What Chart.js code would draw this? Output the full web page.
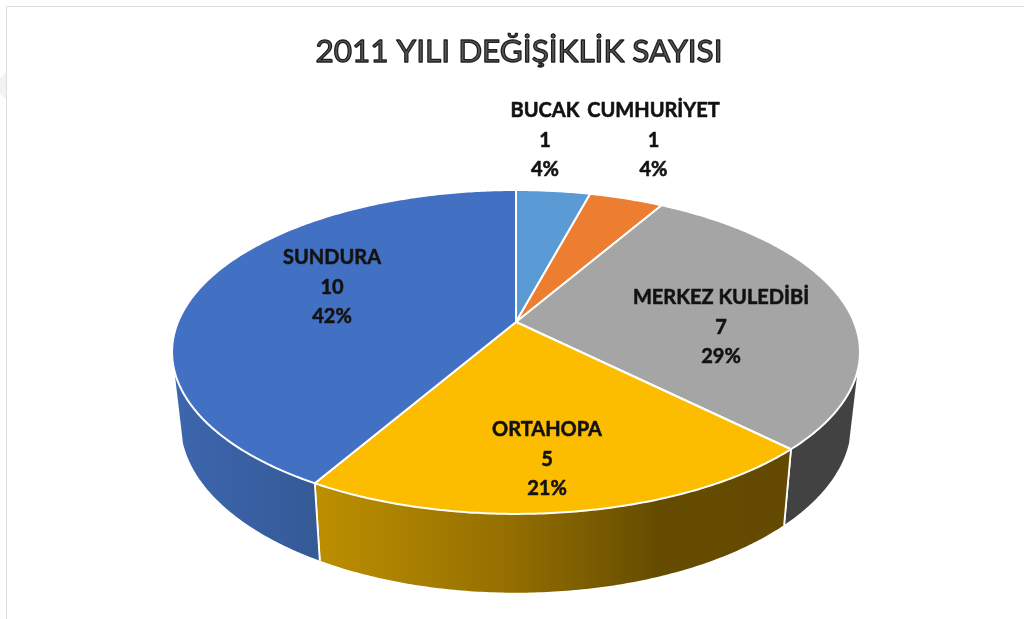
<!DOCTYPE html>
<html>
<head>
<meta charset="utf-8">
<title>2011 YILI DEĞİŞİKLİK SAYISI</title>
<style>
  html, body { margin: 0; padding: 0; background: #fff; }
  #chart { display: block; }
</style>
<script src="https://cdn.jsdelivr.net/npm/chart.js@4"></script>
</head>
<body>
<canvas id="chart" width="1024" height="619"></canvas>
<script>
// Chart values
const CHART_TITLE = '2011 YILI DEĞİŞİKLİK SAYISI';
const categories = ['BUCAK', 'CUMHURİYET', 'MERKEZ KULEDİBİ', 'ORTAHOPA', 'SUNDURA'];
const counts = [1, 1, 7, 5, 10];
const sliceColors = ['#5b9bd5', '#ed7d31', '#a5a5a5', '#fcbd00', '#4270c2'];

// Where each label block sits (centre of first line)
const labelSpots = [[545, 111], [653.5, 111], [721, 298], [547, 430], [332, 258]];

// Pie tilt: top face is a circle seen in perspective, wall hangs under it
const TILT = { a: 338, b: 156.4, p: 0.185 };
const WALL = { shrink: 0.975, drop: 70, stretch: 1.046, hidden: 0.3 };

const wallFills = [
  null,
  null,
  [[0, '#424242'], [1, '#424242']],
  [[0, '#bd8f00'], [0.4, '#957000'], [0.72, '#654c00'], [1, '#634a00']],
  [[0, '#3e66ae'], [1, '#345a97']]
];

function topPoint(arc, angle) {
  const u = Math.cos(angle), v = Math.sin(angle), w = 1 - TILT.p * v;
  return [arc.x + TILT.a * u / w, arc.y + TILT.b * v / w];
}

function wallPoint(arc, angle) {
  const [x, y] = topPoint(arc, angle);
  return [arc.x + WALL.shrink * (x - arc.x), arc.y + WALL.drop + WALL.stretch * (y - arc.y)];
}

function traceRim(ctx, fn, arc, from, to) {
  const steps = Math.max(2, Math.ceil(Math.abs(to - from) / 0.01));
  for (let i = 0; i <= steps; i++) {
    const [x, y] = fn(arc, from + (to - from) * i / steps);
    ctx.lineTo(x, y);
  }
}

function drawWall(ctx, arc, index) {
  const from = Math.max(arc.startAngle, WALL.hidden);
  const to = Math.min(arc.endAngle, Math.PI - WALL.hidden);
  if (to <= from || !wallFills[index]) return;
  const xA = topPoint(arc, from)[0], xB = topPoint(arc, to)[0];
  const grad = ctx.createLinearGradient(Math.min(xA, xB), 0, Math.max(xA, xB), 0);
  wallFills[index].forEach(([stop, color]) => grad.addColorStop(stop, color));
  ctx.beginPath();
  traceRim(ctx, topPoint, arc, from, to);
  traceRim(ctx, wallPoint, arc, to, from);
  ctx.closePath();
  ctx.fillStyle = grad;
  ctx.fill();
  // white seam where two walls meet
  [arc.startAngle, arc.endAngle].forEach(angle => {
    if (angle <= WALL.hidden || angle >= Math.PI - WALL.hidden) return;
    const t = topPoint(arc, angle), b = wallPoint(arc, angle);
    ctx.beginPath();
    ctx.moveTo(t[0], t[1]);
    ctx.lineTo(b[0], b[1]);
    ctx.strokeStyle = '#fff';
    ctx.lineWidth = 1.8;
    ctx.stroke();
  });
}

function drawTop(ctx, arc) {
  ctx.beginPath();
  ctx.moveTo(arc.x, arc.y);
  traceRim(ctx, topPoint, arc, arc.startAngle, arc.endAngle);
  ctx.closePath();
  ctx.fillStyle = arc.options.backgroundColor;
  ctx.fill();
  ctx.strokeStyle = arc.options.borderColor;
  ctx.lineWidth = arc.options.borderWidth;
  ctx.lineJoin = 'round';
  ctx.stroke();
}

function outlinedText(ctx, text, x, y, fill, stroke, width) {
  ctx.fillStyle = fill;
  ctx.fillText(text, x, y);
  ctx.strokeStyle = stroke;
  ctx.lineWidth = width;
  ctx.strokeText(text, x, y);
}

const pie3d = {
  id: 'pie3d',
  beforeDraw(chart) {
    const ctx = chart.ctx;
    ctx.save();
    ctx.fillStyle = '#fff';
    ctx.fillRect(0, 0, chart.width, chart.height);
    // frame of the pasted picture
    ctx.fillStyle = '#dedede';
    ctx.fillRect(6, 6, chart.width - 6, 1);
    ctx.fillRect(6, 6, 1, chart.height - 6);
    ctx.fillStyle = '#f2f2f2';
    ctx.beginPath();
    ctx.moveTo(0, 78);
    ctx.lineTo(6, 72);
    ctx.lineTo(6, 99);
    ctx.lineTo(0, 94);
    ctx.closePath();
    ctx.fill();
    ctx.restore();
  },
  beforeDatasetDraw(chart) {
    const ctx = chart.ctx;
    const arcs = chart.getDatasetMeta(0).data;
    ctx.save();
    arcs.forEach((arc, i) => drawWall(ctx, arc, i));
    arcs.forEach(arc => drawTop(ctx, arc));
    ctx.restore();
    return false;
  },
  afterDraw(chart) {
    const ctx = chart.ctx;
    const total = counts.reduce((s, n) => s + n, 0);
    ctx.save();
    ctx.textAlign = 'center';
    ctx.textBaseline = 'middle';
    ctx.lineJoin = 'round';
    ctx.font = '31.5px Lato';
    outlinedText(ctx, CHART_TITLE, 519, 51.5, '#555', '#1e1e1e', 1.3);
    ctx.font = 'bold 20px Lato';
    categories.forEach((name, i) => {
      const [x, y] = labelSpots[i];
      const lines = [name, String(counts[i]), Math.round(counts[i] / total * 100) + '%'];
      lines.forEach((line, k) => outlinedText(ctx, line, x, y + k * 29.5, '#111', '#1a1a1a', 0.6));
    });
    ctx.restore();
  }
};

new Chart(document.getElementById('chart'), {
  type: 'pie',
  data: {
    labels: categories,
    datasets: [{
      data: counts,
      backgroundColor: sliceColors,
      borderColor: '#fff',
      borderWidth: 2
    }]
  },
  options: {
    responsive: false,
    animation: false,
    layout: { padding: { left: 8, top: 25 } },
    plugins: {
      legend: { display: false },
      title: { display: false },
      tooltip: { enabled: false }
    }
  },
  plugins: [pie3d]
});
</script>
</body>
</html>
